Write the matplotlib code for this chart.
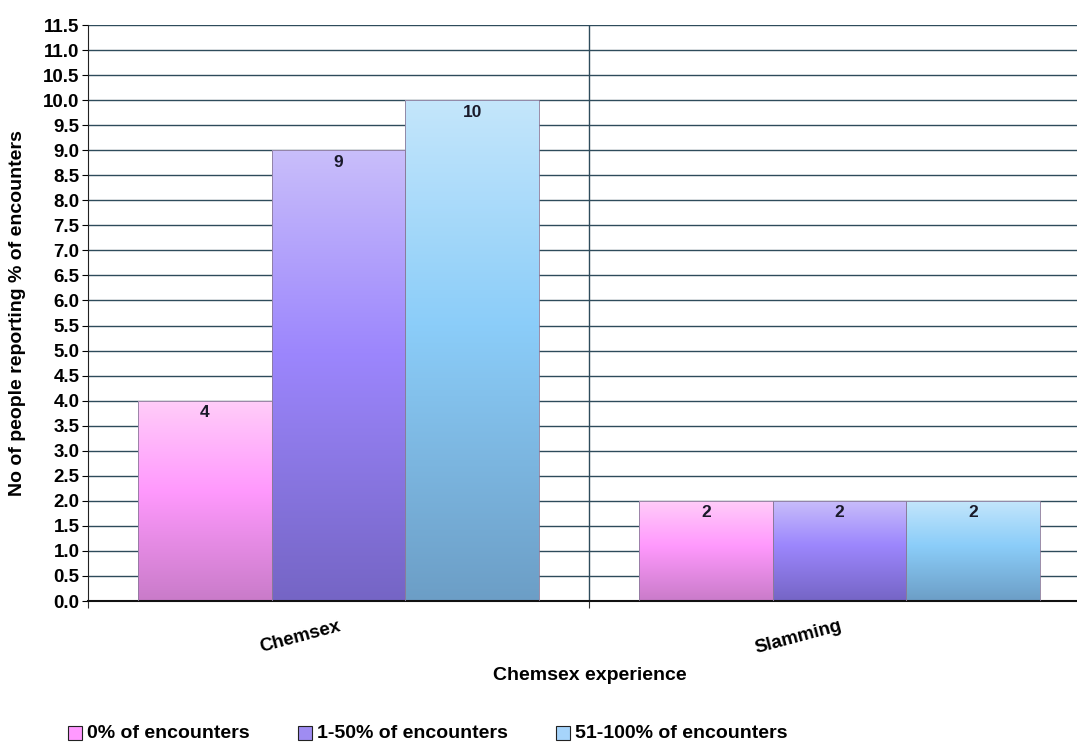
import matplotlib
matplotlib.use("Agg")
import matplotlib.pyplot as plt
import matplotlib.ticker as mticker
from matplotlib.colors import LinearSegmentedColormap
from matplotlib.patches import Rectangle
import numpy as np

plt.rcParams['font.family'] = ['Liberation Sans', 'DejaVu Sans']
plt.rcParams['font.weight'] = 'bold'

categories = ["Chemsex", "Slamming"]
series_names = ["0% of encounters", "1-50% of encounters", "51-100% of encounters"]
values = {
    "0% of encounters": [4, 2],
    "1-50% of encounters": [9, 2],
    "51-100% of encounters": [10, 2],
}

# top / middle / bottom colours of each bar gradient
GRADS = [
    ["#ffcdf9", "#ff99fd", "#c97bc9"],
    ["#c9befa", "#9c86fd", "#7565c5"],
    ["#c4e6fb", "#8bcdf9", "#6c9ec6"],
]
LEGEND_COLORS = ["#ff99ff", "#9f8cf2", "#a6d4fb"]
GRID = "#2e4b5b"

fig = plt.figure(figsize=(10.77, 7.42), dpi=100)
W, H = 1077, 742
left, right, top, bottom = 88, 1090, 25, 601
ax = fig.add_axes([left / W, 1 - bottom / H, (right - left) / W, (bottom - top) / H])

x = np.arange(len(categories))
bw = 0.8 / 3
grad = np.linspace(0, 1, 256).reshape(-1, 1)
for i, name in enumerate(series_names):
    vals = values[name]
    cmap = LinearSegmentedColormap.from_list(f"g{i}", [(0, GRADS[i][2]), (0.55, GRADS[i][1]), (1, GRADS[i][0])])
    bars = ax.bar(x - 0.4 + bw * (i + 0.5), vals, width=bw, facecolor="none",
                  edgecolor="#8a7a9a", linewidth=0.6, zorder=3)
    for b, v in zip(bars, vals):
        bx, by = b.get_x(), b.get_y()
        im = ax.imshow(grad, cmap=cmap, origin="lower", aspect="auto",
                       extent=[bx, bx + b.get_width(), by, by + b.get_height()], zorder=2)
        im.set_clip_path(b)
        ax.text(bx + b.get_width() / 2, v - 0.24, f"{v}", ha="center", va="center",
                fontsize=12.5, fontweight="bold", color="#1a1a2a", zorder=4)

ax.set_xlim(-0.5, 1.5)
ax.set_ylim(0, 11.5)
ax.yaxis.set_major_formatter(mticker.FormatStrFormatter("%.1f"))
ax.set_yticks(np.arange(0, 11.51, 0.5))
ax.grid(axis="y", color=GRID, linewidth=1.0, zorder=1)
ax.axvline(0.5, color=GRID, linewidth=1.0, zorder=1)
ax.set_axisbelow(True)

ax.set_xticks([-0.5, 0.5, 1.5])
ax.set_xticklabels([])
ax.set_xticks(x, minor=True)
ax.set_xticklabels(categories, minor=True, rotation=15, ha="right",
                   fontsize=13.5, fontweight="bold", rotation_mode="anchor")
ax.tick_params(axis="x", which="minor", length=0, pad=12)
ax.tick_params(axis="x", which="major", length=5, color="#333333")
ax.tick_params(axis="y", labelsize=13.5, length=4, pad=2)
for lbl in ax.get_yticklabels():
    lbl.set_fontweight("bold")

for s in ["top", "right"]:
    ax.spines[s].set_visible(False)
ax.spines["left"].set_color("#222222")
ax.spines["bottom"].set_color("#111111")
ax.spines["bottom"].set_linewidth(1.5)

fig.text(590 / W, 1 - 675 / H, "Chemsex experience", ha="center", va="center",
         fontsize=14, fontweight="bold")
fig.text(18 / W, 1 - 313 / H, "No of people reporting % of encounters", ha="center",
         va="center", rotation=90, fontsize=14, fontweight="bold")

# legend drawn by hand: fixed slots like the original
legend_x = [68, 298, 556]
sq = 14
for lx, c, name in zip(legend_x, LEGEND_COLORS, series_names):
    fig.patches.append(Rectangle((lx / W, 1 - (733 + sq / 2) / H), sq / W, sq / H,
                                 transform=fig.transFigure, facecolor=c,
                                 edgecolor="#222222", linewidth=0.8))
    fig.text((lx + sq + 5) / W, 1 - 733 / H, name, ha="left", va="center",
             fontsize=14, fontweight="bold")

fig.savefig("out.png", dpi=100, facecolor="white")
